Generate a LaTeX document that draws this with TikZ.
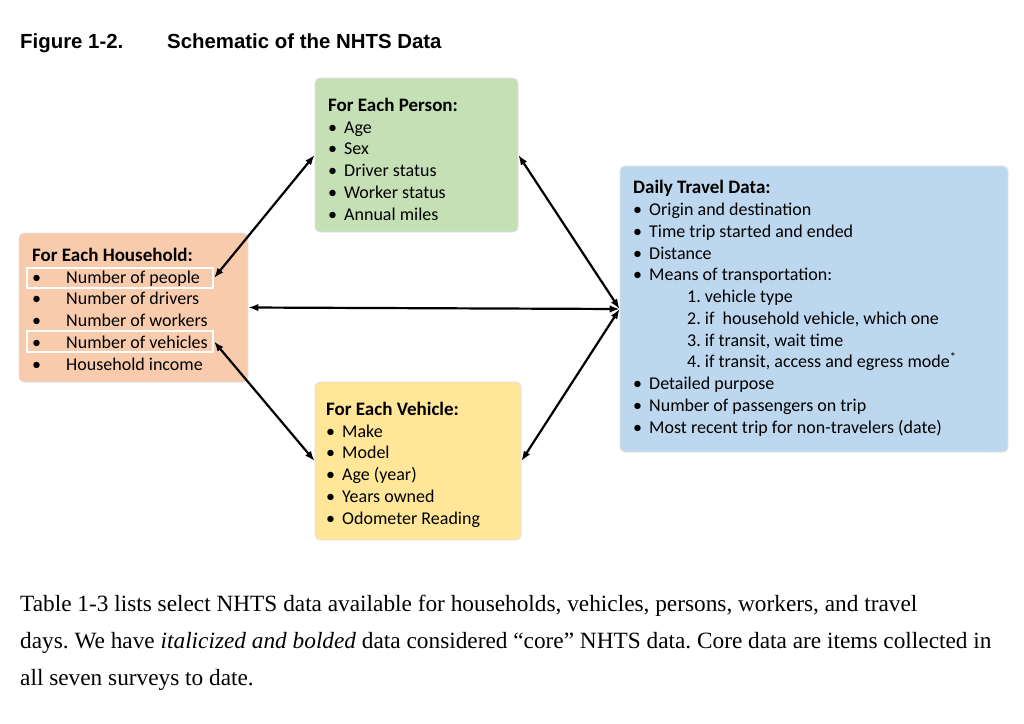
\documentclass[tikz,border=0pt]{standalone}
\usepackage{fontspec}
\setmainfont{Carlito}
\newfontfamily\headfont{Liberation Sans}
\newfontfamily\bodyfont{Liberation Serif}
\usepackage{tikz}
\usetikzlibrary{arrows.meta, positioning}
\definecolor{hhpeach}{RGB}{248,203,173}
\definecolor{psgreen}{RGB}{197,224,180}
\definecolor{vhyellow}{RGB}{255,230,153}
\definecolor{dtblue}{RGB}{189,215,238}
\newcommand{\itm}[1]{\makebox[16pt][l]{\textbullet}#1}
\newcommand{\hhitm}[1]{\makebox[34pt][l]{\textbullet}#1}
\newcommand{\boxhead}[1]{\textbf{\fontsize{19}{21.75}\selectfont #1}}
\frenchspacing

\begin{document}
\begin{tikzpicture}[x=1pt, y=-1pt,
    databox/.style={draw=black!12, line width=0.8pt, rounded corners=5pt, inner sep=0pt},
    hlbox/.style={draw=white, line width=2pt, inner sep=0pt},
    listtext/.style={anchor=base west, align=left, inner sep=0pt, font=\fontsize{18}{21.75}\selectfont},
    link/.style={{Latex[length=10pt,width=7.5pt]}-{Latex[length=10pt,width=7.5pt]}, line width=2.2pt}]
    \useasboundingbox (0,0) rectangle (1024,723);

    % Caption
    \node[anchor=base west, inner sep=0pt, font=\headfont\bfseries\fontsize{20.4}{22}\selectfont] (figno) at (20,48) {Figure 1-2.};
    \node[anchor=base west, inner sep=0pt, font=\headfont\bfseries\fontsize{20.4}{22}\selectfont] (figtitle) at (167,48) {Schematic of the NHTS Data};

    % Boxes
    \node[databox, fill=hhpeach, minimum width=229pt, minimum height=149pt] (household) at (133.5,307.5) {};
    \node[databox, fill=psgreen, minimum width=203pt, minimum height=154pt] (person) at (416.5,155) {};
    \node[databox, fill=vhyellow, minimum width=206pt, minimum height=158pt] (vehicle) at (418,461) {};
    \node[databox, fill=dtblue, minimum width=388pt, minimum height=286pt] (daily) at (814,309) {};

    % Highlighted household rows
    \node[hlbox, minimum width=186pt, minimum height=20pt] (hhpeople) at (120,278) {};
    \node[hlbox, minimum width=186pt, minimum height=21pt] (hhvehicles) at (120,341.5) {};

    % Box contents (base = last line)
    \node[listtext] (hhtext) at (32,370) {\boxhead{For Each Household:}\\
        \hhitm{Number of people}\\ \hhitm{Number of drivers}\\ \hhitm{Number of workers}\\
        \hhitm{Number of vehicles}\\ \hhitm{Household income}};
    \node[listtext] (pstext) at (328,220) {\boxhead{For Each Person:}\\
        \itm{Age}\\ \itm{Sex}\\ \itm{Driver status}\\ \itm{Worker status}\\ \itm{Annual miles}};
    \node[listtext] (vhtext) at (326,524) {\boxhead{For Each Vehicle:}\\
        \itm{Make}\\ \itm{Model}\\ \itm{Age (year)}\\ \itm{Years owned}\\ \itm{Odometer Reading}};
    \node[listtext] (dttext) at (633,433) {\boxhead{Daily Travel Data:}\\
        \itm{Origin and destination}\\ \itm{Time trip started and ended}\\ \itm{Distance}\\
        \itm{Means of transportation:}\\
        \hspace*{54pt}1. vehicle type\\
        \hspace*{54pt}2. if~ household vehicle, which one\\
        \hspace*{54pt}3. if transit, wait time\\
        \hspace*{54pt}4. if transit, access and egress mode\textsuperscript{*}\\
        \itm{Detailed purpose}\\ \itm{Number of passengers on trip}\\ \itm{Most recent trip for non-travelers (date)}};

    % Links
    \draw[link] (hhpeople.east) -- (person.west);
    \draw[link] (hhvehicles.east) -- (vehicle.west);
    \draw[link] (daily.west) -- (household.east);
    \draw[link] (daily.west) -- (person.east);
    \draw[link] (daily.west) -- (vehicle.east);

    % Paragraph (base = last line)
    \node[anchor=base west, align=left, inner sep=0pt, font=\bodyfont\fontsize{23.3}{37}\selectfont] (para) at (20,685)
        {Table 1-3 lists select NHTS data available for households, vehicles, persons, workers, and travel\\
        days. We have \textit{italicized and bolded} data considered “core” NHTS data. Core data are items collected in\\
        all seven surveys to date.};
\end{tikzpicture}
\end{document}
